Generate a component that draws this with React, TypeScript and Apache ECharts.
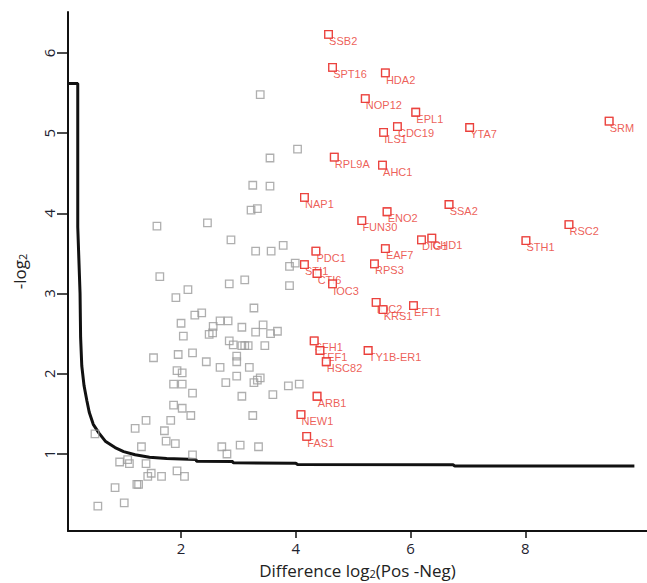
import React, { useEffect, useRef } from "react";
import * as echarts from "echarts";

// Background (non-significant) proteins
const grayX = [3.38,4.03,3.55,3.25,3.55,3.22,3.33,1.58,2.46,2.87,3.30,3.57,3.78,3.89,3.99,1.63,2.12,1.91,2.84,3.11,3.89,3.27,2.24,2.36,2.00,2.68,2.82,2.56,3.06,3.43,3.68,3.56,3.30,2.49,2.55,2.04,2.84,2.91,3.06,3.11,3.17,3.46,2.20,1.95,1.52,2.97,2.44,2.97,2.68,3.19,1.93,2.02,2.97,3.38,3.33,3.27,2.78,1.87,2.02,3.87,4.06,2.20,3.06,3.60,1.87,2.02,2.17,3.25,1.39,1.82,1.20,1.71,0.50,1.74,1.90,1.31,2.71,3.03,3.35,2.20,2.80,1.07,0.93,1.10,1.39,1.48,1.42,1.93,2.06,1.66,1.23,1.26,0.85,1.01,0.55];
const grayY = [5.48,4.80,4.69,4.35,4.34,4.04,4.06,3.84,3.88,3.67,3.53,3.53,3.60,3.34,3.38,3.21,3.05,2.95,3.12,3.17,3.10,2.82,2.73,2.76,2.63,2.66,2.66,2.59,2.58,2.61,2.53,2.50,2.52,2.49,2.51,2.47,2.41,2.36,2.35,2.35,2.35,2.35,2.26,2.24,2.20,2.22,2.15,2.15,2.08,2.08,2.04,2.01,1.97,1.95,1.92,1.89,1.89,1.87,1.87,1.85,1.87,1.76,1.72,1.74,1.61,1.57,1.48,1.48,1.42,1.42,1.32,1.29,1.25,1.16,1.13,1.09,1.09,1.11,1.09,0.99,1.00,0.93,0.90,0.88,0.88,0.76,0.72,0.79,0.72,0.72,0.62,0.62,0.58,0.39,0.35];

// Significant (labelled) proteins
const redNames = ["SSB2","SPT16","HDA2","NOP12","EPL1","CDC19","ILS1","YTA7","SRM1","RPL9A","AHC1","NAP1","SSA2","ENO2","FUN30","RSC2","DIG1","CHD1","STH1","EAF7","PDC1","STI1","CTI6","RPS3","IOC3","IOC2","KRS1","EFT1","SFH1","TEF1","TY1B-ER1","HSC82","ARB1","NEW1","FAS1"];
const redX = [4.57,4.64,5.56,5.21,6.09,5.77,5.53,7.03,9.46,4.67,5.51,4.15,6.67,5.59,5.15,8.76,6.19,6.37,8.01,5.56,4.35,4.15,4.37,5.37,4.64,5.40,5.52,6.05,4.32,4.42,5.26,4.53,4.37,4.09,4.19];
const redY = [6.23,5.82,5.75,5.43,5.26,5.08,5.01,5.07,5.15,4.70,4.60,4.20,4.11,4.02,3.91,3.86,3.67,3.69,3.66,3.56,3.53,3.36,3.25,3.37,3.12,2.89,2.80,2.85,2.41,2.29,2.29,2.15,1.72,1.49,1.22];

// Significance threshold curve
const curveX = [0.03,0.20,0.20,0.24,0.25,0.27,0.31,0.36,0.40,0.47,0.57,0.68,0.85,1.00,1.20,1.45,1.75,2.26,2.27,2.90,2.91,4.00,4.03,6.74,6.77,9.90];
const curveY = [5.62,5.62,3.83,3.00,2.45,2.10,1.85,1.66,1.52,1.37,1.26,1.16,1.08,1.03,0.99,0.96,0.945,0.93,0.91,0.905,0.89,0.885,0.87,0.865,0.85,0.85];

const xTicks = [2, 4, 6, 8];
const yTicks = [1, 2, 3, 4, 5, 6];

export default function App() {
  const ref = useRef<HTMLDivElement>(null);
  useEffect(() => {
    if (!ref.current) return;
    const chart = echarts.init(ref.current, null, { renderer: "svg" });
    const tickFont = { fontFamily: "Open Sans", fontSize: 15, color: "#1f2330" };
    const redData = redNames.map((n, i) => {
      const item: any = { name: n, value: [redX[i], redY[i]] };
      if (n === "SRM1") item.label = { width: 28, overflow: "truncate", ellipsis: "" };
      return item;
    });
    const redPlain = redNames.map((n, i) => ({ name: n, value: [redX[i], redY[i]] }));
    const nameStyle = {
      fontFamily: "Open Sans",
      fontSize: 17,
      color: "#222",
      rich: { s: { fontFamily: "Open Sans", fontSize: 11, color: "#222", verticalAlign: "bottom", padding: [5, 0, 0, 0] } },
    };
    chart.setOption({
      animation: false,
      backgroundColor: "#ffffff",
      grid: { left: 68, right: 0, top: 12, bottom: 52, outerBoundsMode: "none" },
      xAxis: {
        type: "value",
        min: 0.03,
        max: 10.12,
        name: "Difference log{s|2}(Pos -Neg)",
        nameLocation: "middle",
        nameGap: 31,
        nameTextStyle: nameStyle,
        splitLine: { show: false },
        axisLine: { lineStyle: { color: "#111", width: 2 } },
        axisTick: { length: 7, lineStyle: { color: "#111", width: 1.5 }, customValues: xTicks },
        axisLabel: { ...tickFont, margin: 9, customValues: xTicks },
      },
      yAxis: {
        type: "value",
        min: 0.04,
        max: 6.51,
        name: "-log{s|2}",
        nameLocation: "middle",
        nameGap: 40,
        nameTextStyle: nameStyle,
        splitLine: { show: false },
        axisLine: { lineStyle: { color: "#111", width: 2 } },
        axisTick: { length: 11, lineStyle: { color: "#111", width: 1.5 }, customValues: yTicks },
        axisLabel: { ...tickFont, margin: 12, rotate: 90, customValues: yTicks },
      },
      series: [
        {
          type: "scatter",
          z: 1,
          symbol: "rect",
          symbolSize: 7.5,
          silent: true,
          itemStyle: { color: "rgba(0,0,0,0)", borderColor: "#9b9b9b", borderWidth: 1.3 },
          data: grayX.map((x, i) => [x, grayY[i]]),
        },
        {
          type: "line",
          z: 1,
          symbol: "none",
          silent: true,
          lineStyle: { color: "#111", width: 3 },
          data: curveX.map((x, i) => [x, curveY[i]]),
        },
        {
          type: "scatter",
          z: 2,
          symbol: "rect",
          symbolSize: 7.5,
          silent: true,
          itemStyle: { color: "#fff", borderColor: "#e8302a", borderWidth: 1.3 },
          label: {
            show: true,
            formatter: "{b}",
            position: [5, 11],
            align: "left",
            verticalAlign: "middle",
            fontFamily: "Liberation Sans",
            fontSize: 11,
            color: "#e8352c",
          },
          data: redData,
        },
        {
          type: "scatter",
          z: 3,
          symbol: "rect",
          symbolSize: 7.5,
          silent: true,
          itemStyle: { color: "#fff", borderColor: "#e8302a", borderWidth: 1.3 },
          data: redPlain,
        },
      ],
    });
    return () => chart.dispose();
  }, []);
  return (
    <div
      ref={ref}
      style={{ position: "absolute", left: 0, top: 0, width: 647, height: 583, background: "#fff" }}
    />
  );
}
